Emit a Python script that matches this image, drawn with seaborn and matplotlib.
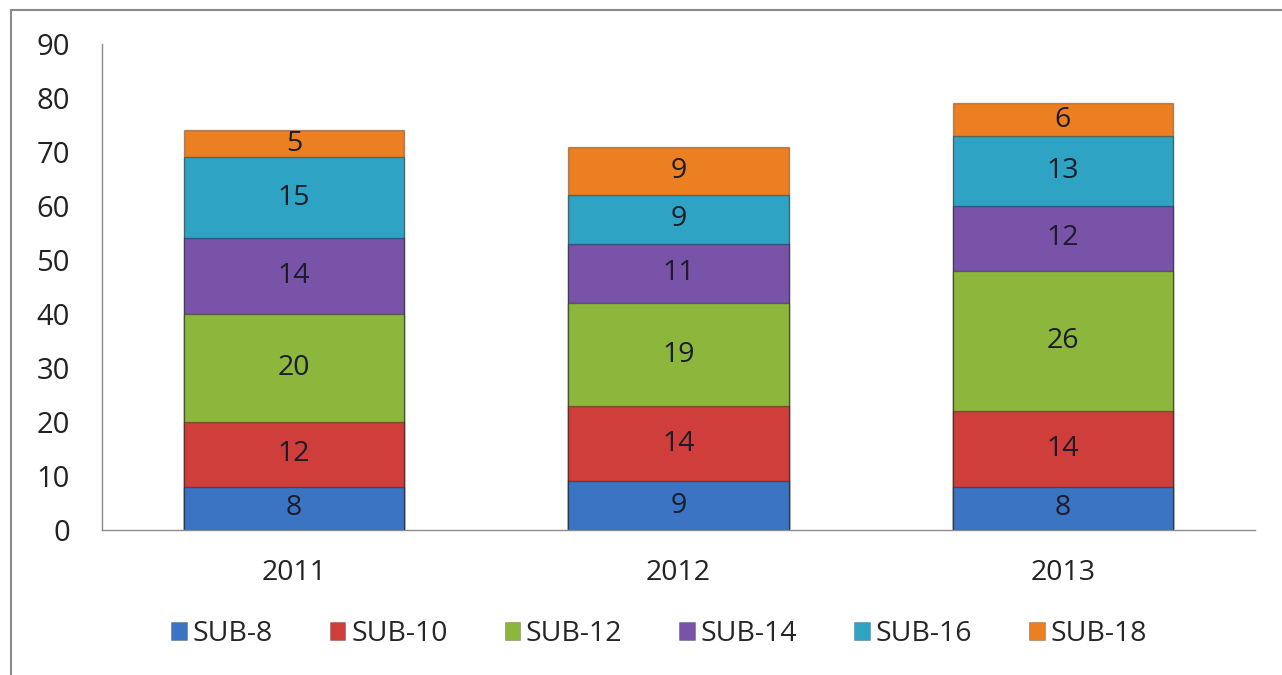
import matplotlib
matplotlib.use("Agg")
import matplotlib.pyplot as plt
import seaborn as sns
import numpy as np
import pandas as pd
from matplotlib.lines import Line2D
from matplotlib.patches import Patch

years = ["2011", "2012", "2013"]
series = ["SUB-8", "SUB-10", "SUB-12", "SUB-14", "SUB-16", "SUB-18"]
sub8 = [8, 9, 8]
sub10 = [12, 14, 14]
sub12 = [20, 19, 26]
sub14 = [14, 11, 12]
sub16 = [15, 9, 13]
sub18 = [5, 9, 6]
colors = ["#3b74c2", "#cf3e3a", "#8cb63c", "#7853a8", "#2ea3c4", "#ec7f22"]
y_ticks = [0, 10, 20, 30, 40, 50, 60, 70, 80, 90]

values = [sub8, sub10, sub12, sub14, sub16, sub18]

sns.set_theme(style="white")
plt.rcParams["font.family"] = ["Open Sans", "DejaVu Sans"]

fig = plt.figure(figsize=(12.82, 6.75), dpi=100)
ax = fig.add_axes([102 / 1282, 1 - 530 / 675, (1255 - 102) / 1282, (530 - 44) / 675])

cum = np.cumsum(np.array(values, dtype=float), axis=0)
# draw tallest cumulative first so lower segments overlay
for i in range(len(series) - 1, -1, -1):
    df = pd.DataFrame({"year": years, "val": cum[i]})
    sns.barplot(data=df, x="year", y="val", color=colors[i], width=0.573,
                ax=ax, saturation=1, edgecolor="#00000050", linewidth=1.0,
                errorbar=None)

# labels
for j, yr in enumerate(years):
    bottom = 0
    for i in range(len(series)):
        v = values[i][j]
        ax.text(j, bottom + v / 2, str(v), ha="center", va="center",
                fontsize=20.5, color="#1c1c2a")
        bottom += v

ax.set_ylim(0, 90)
ax.set_xlim(-0.5, 2.5)
ax.set_yticks(y_ticks)
ax.set_yticklabels([str(t) for t in y_ticks], fontsize=21, color="#222222")
ax.tick_params(axis="x", labelsize=20.5, colors="#222222", length=0, pad=21)
ax.tick_params(axis="y", length=0, pad=23)
ax.set_xlabel("")
ax.set_ylabel("")
for s in ["top", "right"]:
    ax.spines[s].set_visible(False)
ax.spines["left"].set_color("#8c8c8c")
ax.spines["bottom"].set_color("#8c8c8c")
ax.spines["left"].set_linewidth(1)
ax.spines["bottom"].set_linewidth(1)

handles = [Patch(facecolor=c, edgecolor="#00000040", linewidth=0.6) for c in colors]
fig.legend(handles, series, loc="center", bbox_to_anchor=(659 / 1282, 1 - 634 / 675),
           ncol=6, frameon=False, fontsize=20.5, handlelength=0.55, handleheight=0.55,
           handletextpad=0.2, columnspacing=2.0)

# outer chart border
fig.add_artist(Line2D([11 / 1282, 11 / 1282], [0, 1 - 10 / 675], transform=fig.transFigure,
                      color="#8a8a8a", linewidth=1.5))
fig.add_artist(Line2D([11 / 1282, 1], [1 - 10 / 675, 1 - 10 / 675], transform=fig.transFigure,
                      color="#8a8a8a", linewidth=1.5))

fig.savefig("out.png", dpi=100)
